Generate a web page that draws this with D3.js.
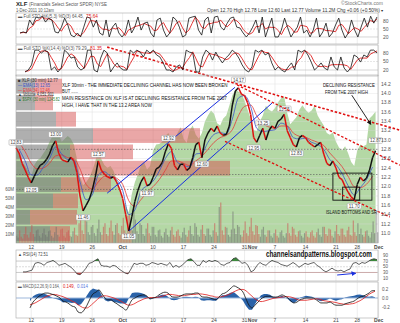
<!DOCTYPE html>
<html><head><meta charset="utf-8">
<script src="https://cdn.jsdelivr.net/npm/d3@7"></script>
<style>body{margin:0;background:#fff}svg{display:block}text{font-family:"Liberation Sans",Arial,sans-serif}</style>
</head><body><svg id="c" width="400" height="323"></svg>
<script>
// ---------------- DATA ----------------
const tickDays=[0,5,10,15,20,25,30,35,40,45,50,53.5,57];
const tickLabels=["12","19","26","Oct","10","17","24","31","7","14","21","28","Dec"];
const priceTicks=[11.0,11.2,11.4,11.6,11.8,12.0,12.2,12.4,12.6,12.8,13.0,13.2,13.4,13.6,13.8,14.0,14.2];
const volTicks=[10,20,30,40,50,60];
const stoTicks=[80,50,20];
const rsiTicks=[90,70,50,30,10];
const macdTicks=[0.2,0,-0.2];
// XLF 30 min, read every half day
const price=[12.83,12.72,12.50,12.36,12.20,12.08,12.22,12.36,12.46,12.50,
12.58,12.70,12.88,12.98,12.72,12.58,12.55,12.53,12.63,12.55,
12.30,11.80,11.48,11.60,11.72,11.92,12.20,12.55,12.35,12.27,
12.21,12.18,12.21,12.10,11.95,11.75,11.40,11.05,11.35,11.68,
11.92,12.10,12.21,12.02,12.05,12.20,12.38,12.42,12.52,12.75,
12.92,12.82,12.45,12.36,12.48,12.48,12.35,12.40,12.62,12.90,
12.95,12.62,13.00,13.15,13.25,13.18,13.30,13.15,13.10,13.12,
13.30,13.75,14.05,14.12,13.98,13.95,13.80,13.55,13.05,12.95,
13.10,13.25,13.00,13.20,13.30,13.25,13.40,13.45,13.55,13.20,
13.05,12.90,12.85,13.05,13.10,13.05,12.95,12.90,12.85,12.90,
12.95,12.70,12.50,12.45,12.55,12.40,12.20,12.15,12.00,11.88,
11.78,11.72,12.05,12.20,12.12,12.18,12.35,12.62,12.77];
const spx=[1195,1180,1165,1158,1150,1140,1160,1168,1172,1180,
1188,1200,1210,1218,1214,1200,1205,1210,1205,1195,
1170,1140,1125,1130,1138,1150,1165,1190,1170,1160,
1155,1158,1150,1135,1120,1100,1090,1078,1110,1130,
1144,1160,1165,1152,1158,1185,1195,1196,1200,1210,
1215,1205,1200,1215,1225,1205,1198,1220,1228,1212,
1205,1215,1235,1245,1254,1248,1232,1228,1240,1245,
1262,1280,1290,1286,1284,1270,1255,1240,1220,1218,
1235,1245,1262,1255,1252,1258,1268,1275,1278,1250,
1230,1236,1242,1255,1263,1255,1250,1254,1262,1245,
1236,1228,1215,1212,1216,1200,1190,1185,1192,1180,
1165,1158,1185,1195,1192,1195,1240,1245,1252];
// EMAs read once per day
const ema13=[12.80,12.55,12.25,12.25,12.42,12.60,12.85,12.70,12.58,12.57,12.10,11.72,11.82,12.25,12.32,12.22,12.15,11.92,11.40,11.50,11.90,12.02,12.12,12.33,12.60,12.75,12.52,12.46,12.42,12.70,12.72,12.95,13.12,13.16,13.13,13.45,13.90,13.95,13.72,13.25,13.18,13.20,13.22,13.36,13.30,13.05,13.02,13.04,12.95,12.90,12.80,12.58,12.47,12.28,12.02,11.82,11.98,12.15,12.42];
const ema34=[12.95,12.75,12.50,12.38,12.40,12.50,12.66,12.68,12.62,12.60,12.38,12.05,11.95,12.10,12.22,12.22,12.18,12.05,11.70,11.58,11.72,11.88,12.00,12.15,12.35,12.55,12.55,12.50,12.45,12.55,12.65,12.80,12.95,13.05,13.10,13.22,13.52,13.72,13.75,13.52,13.35,13.28,13.25,13.30,13.30,13.15,13.08,13.06,13.00,12.95,12.88,12.72,12.58,12.43,12.22,12.00,11.98,12.05,12.22];
// volume (millions) read every quarter day
const volume=[8,6,
14,7,5,10,18,9,6,12,20,10,7,14,15,8,6,11,16,9,7,13,14,8,6,12,18,9,7,15,16,8,6,12,14,8,7,13,17,9,8,22,
30,14,10,25,24,12,9,18,20,11,8,16,26,12,9,18,22,10,8,17,25,13,9,20,22,11,9,19,28,14,11,30,32,15,14,42,26,13,10,22,
20,10,8,16,22,11,8,18,18,9,7,14,15,8,6,12,16,9,7,14,18,9,7,13,15,8,6,12,17,9,7,14,19,10,8,22,18,9,7,15,
20,10,8,16,16,9,7,14,22,12,8,40,45,14,9,18,17,9,7,15,35,16,10,20,18,9,7,14,24,11,8,18,28,13,9,20,19,10,7,15,
18,9,7,14,14,8,6,11,15,8,6,12,14,8,6,11,22,11,8,18,16,9,7,13,14,8,6,11,13,7,6,12,14,8,6,12,16,9,7,18,
18,10,8,16,15,8,6,13,20,10,8,16,16,9,7,14,18,9,8,25,12,8,22,10,16,9,7,13,14,8,6,12,24,11,35,12];
// volume by price (price bucket edges, up volume, down volume)
const vbpEdges=[14.33,13.98,13.62,13.27,12.92,12.57,12.22,11.87,11.52,11.17,10.82];
const vbpUp=[38,38,80,154,108,120,90,74,28,68];
const vbpDown=[54,36,40,214,126,308,100,50,94,40];
// price flags
const labelDays=[-2.5,0,4,8.5,11,16,19,22.5,28,34,36.5,38,41.5,43.5,53,56.5];
const labelVals=[12.83,12.05,13.00,11.46,12.57,11.05,11.97,12.92,12.60,14.17,12.95,13.25,13.55,12.83,11.70,12.87];
const labelSide=[1,-1,1,-1,1,-1,-1,1,-1,1,-1,1,1,-1,-1,1];
// full stochastics
const sto1K=[35,39,35,84,65,95,91,98,76,91,84,39,35,57,91,65,27,20,35,20,57,95,91,57,84,35,27,84,20,57,72,35,20,35,84,35,57,95,46,72,76,35,20,84,91,46,20,35,95,84,57,20,27,91,95,98,46,27,84,95,35,95,98,57,46,72,91,95,57,54,35,20,35,57,84,35,95,20,57,91,20,20,46,91,54,20,39,57,95,35,46,20,46,91,20,39,72,20,35,65,91,46,16,35,84,46,20,57,91,57,98,72,95];
const sto1D=[35,37,36,53,61,81,84,95,88,88,84,71,53,42,61,71,61,37,27,25,37,57,81,81,77,59,49,49,44,54,50,55,42,25,46,51,59,62,66,71,65,61,44,46,65,74,52,34,50,71,79,54,35,46,71,95,80,57,52,69,71,75,76,83,67,58,70,86,81,69,49,36,30,37,59,59,71,50,57,56,56,44,29,52,64,55,38,39,64,62,59,34,37,52,52,50,44,44,42,40,64,67,51,32,45,55,50,41,56,69,82,76,88];
const sto2K=[13,20,38,90,90,80,90,83,20,31,13,27,90,80,62,66,31,20,27,90,90,20,13,62,90,80,13,31,45,27,20,20,90,80,90,83,66,90,80,90,73,66,45,20,20,13,31,38,20,90,83,80,13,13,66,90,80,55,83,62,45,62,73,90,80,62,38,20,13,31,90,83,90,73,80,45,20,31,20,13,31,45,20,90,83,90,73,48,20,31,45,27,20,66,31,20,66,27,13,27,73,66,48,73,66,90,90,80];
const sto2D=[15,17,24,49,73,87,87,84,64,45,21,24,43,66,77,69,53,39,26,46,69,67,41,32,55,77,61,41,30,34,31,22,43,63,87,84,80,80,78,86,81,76,61,44,28,18,21,27,30,49,64,84,59,35,31,56,79,75,73,67,63,56,60,75,81,77,60,40,24,21,45,68,88,82,81,66,48,32,24,21,21,30,32,52,64,88,82,70,47,33,32,34,31,38,39,39,39,38,35,22,38,55,62,62,62,76,82,87];
const rsi=[32,32,35,38,62,65,62,55,65,68,72,65,55,58,62,55,48,38,25,22,32,45,62,65,72,78,55,52,52,48,55,52,42,35,28,25,42,62,58,62,62,55,58,65,62,58,62,58,55,65,48,55,48,55,65,75,78,68,55,55,72,65,72,68,72,68,58,55,62,65,78,82,72,62,65,55,32,38,55,65,58,55,65,72,68,65,58,55,52,58,65,58,48,55,62,58,62,65,55,48,38,32,38,45,38,35,38,32,38,42,62,65,58,65,62,68,75,78,75];
const macd=[-0.22,-0.09,-0.02,0.04,0.08,0.11,0.11,0.09,0.07,0.04,0.0,-0.07,-0.09,-0.13,-0.18,-0.20,-0.31,-0.33,-0.27,-0.16,-0.02,0.09,0.13,0.18,0.09,0.0,-0.04,-0.04,-0.09,-0.13,-0.18,-0.22,-0.27,-0.16,-0.04,0.0,0.04,0.06,0.07,0.04,-0.02,0.0,0.02,0.07,0.11,0.13,0.11,0.04,0.02,0.02,0.04,0.07,0.09,0.09,0.09,0.11,0.11,0.04,0.02,0.02,0.0,-0.02,-0.04,0.02,0.09,0.11,0.16,0.22,0.27,0.24,0.2,0.13,-0.02,-0.16,-0.22,-0.16,-0.09,-0.02,0.02,0.04,0.04,0.02,0.02,0.04,0.07,0.04,0.0,-0.07,-0.11,-0.09,-0.04,-0.02,0.0,0.0,0.0,-0.02,-0.07,-0.11,-0.11,-0.11,-0.09,-0.13,-0.16,-0.16,-0.16,-0.13,-0.11,-0.09,-0.07,-0.02,0.02,0.04,0.07,0.11,0.16,0.164];
const macdSignal=[-0.15,-0.13,-0.10,-0.06,-0.02,0.02,0.05,0.07,0.08,0.07,0.05,0.03,0.0,-0.03,-0.07,-0.10,-0.15,-0.19,-0.22,-0.22,-0.18,-0.12,-0.06,0.0,0.04,0.05,0.04,0.02,0.0,-0.03,-0.06,-0.10,-0.14,-0.16,-0.15,-0.12,-0.08,-0.05,-0.02,0.0,0.01,0.01,0.01,0.02,0.04,0.06,0.08,0.08,0.07,0.06,0.05,0.05,0.06,0.07,0.08,0.08,0.09,0.09,0.08,0.07,0.05,0.04,0.02,0.02,0.03,0.05,0.07,0.10,0.14,0.17,0.19,0.19,0.16,0.10,0.04,-0.02,-0.06,-0.08,-0.07,-0.05,-0.03,-0.01,0.0,0.01,0.02,0.03,0.03,0.02,0.0,-0.03,-0.05,-0.05,-0.05,-0.04,-0.03,-0.02,-0.02,-0.04,-0.06,-0.07,-0.08,-0.09,-0.10,-0.12,-0.13,-0.14,-0.14,-0.13,-0.12,-0.09,-0.06,-0.02,0.03,0.08,0.12,0.149];
const macdHist=[-0.07,0.04,0.08,0.10,0.10,0.09,0.06,0.02,-0.01,-0.03,-0.05,-0.10,-0.09,-0.10,-0.11,-0.10,-0.16,-0.14,-0.05,0.06,0.16,0.21,0.19,0.18,0.05,-0.05,-0.08,-0.06,-0.09,-0.10,-0.12,-0.12,-0.13,0.0,0.11,0.12,0.12,0.11,0.09,0.04,-0.03,-0.01,0.01,0.05,0.07,0.07,0.03,-0.04,-0.05,-0.04,-0.01,0.02,0.03,0.02,0.01,0.03,0.02,-0.05,-0.06,-0.05,-0.05,-0.06,-0.06,0.0,0.06,0.06,0.09,0.12,0.13,0.07,0.01,-0.06,-0.18,-0.26,-0.26,-0.14,-0.03,0.06,0.09,0.09,0.07,0.03,0.02,0.03,0.05,0.01,-0.03,-0.09,-0.11,-0.06,0.01,0.03,0.05,0.04,0.03,0.0,-0.05,-0.07,-0.05,-0.04,-0.01,-0.04,-0.06,-0.04,-0.03,0.01,0.03,0.04,0.05,0.07,0.08,0.06,0.04,0.03,0.04,0.014];
// drawn annotations in (day, price)
const blueLines=[[[12.46,11.86],[33.44,14.13]],[[16.07,11.05],[39.5,13.79]]];
const redLines=[[[12.46,14.99],[60.5,13.21]],[[33.77,14.18],[60.5,12.46]],[[31.8,12.97],[58.85,11.35]]];
const boxes=[[49.5,55.9,11.71,12.29],[51.1,53.9,11.71,11.99]];
const levels=[12.8,12.26,11.94];

// ---------------- DRAW ----------------
const svg=d3.select("#c");
const L=16,R=378;
const x=d3.scaleLinear().domain([-2.5,56.9]).range([L,R]);
const P={s1:[13,44],s2:[45,76],main:[75,243],rsi:[250,281],macd:[282,318]};
const yP=d3.scaleLinear().domain([11.0,14.2]).range([233.3,84]);
const yV=d3.scaleLinear().domain([0,60]).range([243,189]);
const yS=d3.scaleLinear().domain([1050,1300]).range([228.7,83.7]);
const yS1=d3.scaleLinear().domain([0,100]).range([42.3,15.7]);
const yS2=d3.scaleLinear().domain([0,100]).range([75.7,47.3]);
const yR=d3.scaleLinear().domain([0,100]).range([281,252.5]);
const yM=d3.scaleLinear().domain([-0.2,0.2]).range([307,289]);
const xVbp=d3.scaleLinear().domain([0,2]).range([0,1]);

svg.append("rect").attr("width",400).attr("height",323).attr("fill","#fff");
// text helper: optional target width w applied by horizontal scaling
function t(g,xx,yy,s,o={}){const e=g.append("text").text(s)
 .attr("font-size",o.fs||5).attr("fill",o.c||"#333").attr("text-anchor",o.a||"start");
 if(o.b)e.attr("font-weight","bold");
 if(o.w){const n=e.node().getComputedTextLength()||o.w;const k=o.w/n;
  e.attr("x",0).attr("y",0).attr("transform",`translate(${xx},${yy}) scale(${k},1)`);}
 else e.attr("x",xx).attr("y",yy);
 return e;}
const panelKeys=Object.keys(P);
panelKeys.forEach(k=>{const [a,b]=P[k];
 svg.append("rect").attr("x",L).attr("y",a).attr("width",R-L).attr("height",b-a).attr("fill","#fff");
 svg.append("g").selectAll("line").data(tickDays).join("line")
  .attr("x1",d=>x(d)).attr("x2",d=>x(d)).attr("y1",a).attr("y2",b).attr("stroke","#e2e2e2").attr("stroke-width",0.6);
});
// --- main panel background layers
const gm=svg.append("g");
svg.append("clipPath").attr("id","cm").append("rect").attr("x",L).attr("y",P.main[0]).attr("width",R-L).attr("height",P.main[1]-P.main[0]);
const hd=i=>-2.5+0.5*i;
gm.append("path").datum(spx).attr("clip-path","url(#cm)")
 .attr("d",d3.area().x((d,i)=>x(hd(i))).y0(P.main[1]).y1(d=>yS(d)))
 .attr("fill","#b4d8a5");
gm.selectAll("line.pg").data(priceTicks).join("line").attr("x1",L).attr("x2",R)
 .attr("y1",d=>yP(d)).attr("y2",d=>yP(d)).attr("stroke","#dcdcdc").attr("stroke-width",0.5).attr("opacity",0.8);
// volume by price
const vb=gm.append("g");
vbpUp.forEach((u,i)=>{const y0=yP(vbpEdges[i]),y1=yP(vbpEdges[i+1]);
 vb.append("rect").attr("x",L).attr("y",y0+0.8).attr("width",xVbp(u)).attr("height",y1-y0-1.6).attr("fill","rgba(110,110,110,0.55)");
 vb.append("rect").attr("x",L+xVbp(u)).attr("y",y0+0.8).attr("width",xVbp(vbpDown[i])).attr("height",y1-y0-1.6).attr("fill","rgba(214,80,80,0.5)");
});
// volume bars
const qd=i=>-2.5+0.25*i;
const bw=x(0.25)-x(0);
gm.append("g").selectAll("rect").data(volume).join("rect")
 .attr("x",(d,i)=>x(qd(i))).attr("width",bw*0.8).attr("y",d=>yV(d)).attr("height",d=>P.main[1]-yV(d))
 .attr("fill",(d,i)=>{const j=Math.floor(i/2);return (j>0&&price[j]<price[j-1])?"rgba(205,80,80,0.55)":"rgba(110,110,110,0.55)";});
// dotted levels
gm.selectAll("line.lv").data(levels).join("line").attr("x1",L).attr("x2",R).attr("y1",d=>yP(d)).attr("y2",d=>yP(d))
 .attr("stroke","#555").attr("stroke-width",0.6).attr("stroke-dasharray","1.5,1.5");
// EMAs
const dd=i=>-2+i;
gm.append("path").datum(ema34).attr("d",d3.line().x((d,i)=>x(dd(i))).y(d=>yP(d)).curve(d3.curveMonotoneX)).attr("fill","none").attr("stroke","#e23b3b").attr("stroke-width",0.8);
gm.append("path").datum(ema13).attr("d",d3.line().x((d,i)=>x(dd(i))).y(d=>yP(d)).curve(d3.curveMonotoneX)).attr("fill","none").attr("stroke","#3a55c8").attr("stroke-width",0.8);
// price
const segs=d3.range(price.length-1);
gm.append("g").selectAll("line").data(segs).join("line")
 .attr("x1",i=>x(hd(i))).attr("x2",i=>x(hd(i+1))).attr("y1",i=>yP(price[i])).attr("y2",i=>yP(price[i+1]))
 .attr("stroke",i=>price[i+1]>=price[i]?"#111":"#d11").attr("stroke-width",1.5);
// trendlines
blueLines.forEach(l=>gm.append("line").attr("x1",x(l[0][0])).attr("y1",yP(l[0][1])).attr("x2",x(l[1][0])).attr("y2",yP(l[1][1])).attr("stroke","#1a2fe0").attr("stroke-width",1));
redLines.forEach((l,i)=>svg.append("line").attr("x1",x(l[0][0])).attr("y1",yP(l[0][1])).attr("x2",x(l[1][0])).attr("y2",yP(l[1][1])).attr("stroke","#e01010").attr("stroke-width",i==0?1.6:1.3).attr("stroke-dasharray","2.5,1.8"));
boxes.forEach(b=>gm.append("rect").attr("x",x(b[0])).attr("y",yP(b[3])).attr("width",x(b[1])-x(b[0])).attr("height",yP(b[2])-yP(b[3])).attr("fill","none").attr("stroke","#111").attr("stroke-width",0.9));
// price flags
labelDays.forEach((dv,i)=>{const cx=x(dv),cy=yP(labelVals[i])-labelSide[i]*5.5;
 gm.append("rect").attr("x",cx-7).attr("y",cy-2.8).attr("width",14).attr("height",5.6).attr("rx",1).attr("fill","#fff").attr("stroke","#999").attr("stroke-width",0.5);
 t(gm,cx,cy+1.7,labelVals[i].toFixed(2),{fs:4.5,a:"middle",c:"#444",w:11});
});
// legends main
t(svg,18,82,"■ XLF (30 min) 12.77",{fs:4.5,c:"#333",w:40});
t(svg,18,87,"— EMA(13) 12.65",{fs:4.5,c:"#3a55c8",w:32});
t(svg,18,91.5,"— EMA(34) 12.46",{fs:4.5,c:"#e23b3b",w:32});
t(svg,18,96,"▲ Volume 4,051,901",{fs:4.5,c:"#333",w:36});
t(svg,18,100.5,"▲ $SPX (30 min) 1245.82",{fs:4.5,c:"#2f7a2f",w:42});
// annotations
const ann=["XLF 30min - THE IMMEDIATE DECLINING CHANNEL HAS NOW BEEN BROKEN","BUT ......","MAIN RESISTANCE ON XLF IS AT DECLINING RESISTANCE FROM THE 2007","HIGH, I HAVE THAT IN THE 13.2 AREA NOW"];
const annW=[166,16,165,90];
const annY=[87,93,100,107];
ann.forEach((s,i)=>t(svg,62,annY[i],s,{fs:5,c:"#111",w:annW[i]}));
t(svg,323,87,"DECLINING RESISTANCE",{fs:5,c:"#111",w:52});
t(svg,325,94,"FROM THE 2007 HIGH",{fs:5,c:"#111",w:43});
t(svg,326,213.5,"ISLAND BOTTOMS AND SR",{fs:5,c:"#111",w:51});
svg.append("defs").html('<marker id="ah" markerWidth="5" markerHeight="5" refX="4" refY="2.5" orient="auto"><path d="M0,0L5,2.5L0,5z" fill="#111"/></marker><marker id="ab" markerWidth="5" markerHeight="5" refX="4" refY="2.5" orient="auto"><path d="M0,0L5,2.5L0,5z" fill="#1a2fe0"/></marker>');
svg.append("line").attr("x1",x(52.6)).attr("y1",yP(13.96)).attr("x2",x(55.7)).attr("y2",yP(13.34)).attr("stroke","#111").attr("stroke-width",0.9).attr("marker-end","url(#ah)");
// price axis
const ax=svg.append("g").attr("transform",`translate(${R+3},0)`);
priceTicks.forEach(v=>t(ax,0,yP(v)+1.7,v.toFixed(1),{fs:5,c:"#555"}));
volTicks.forEach(v=>t(svg,L-2,yV(v)+1.7,v+"M",{fs:4.5,a:"end",c:"#555"}));
// date axes
function dateAxis(yy){tickDays.forEach((dv,i)=>{const s=tickLabels[i];const bold=["Oct","Dec"].includes(s);
 t(svg,x(dv),yy,s,{fs:5,a:"middle",c:"#444",b:bold});
 if(s==="31")t(svg,x(dv)+8,yy,"Nov",{fs:5,a:"middle",c:"#444",b:true});});}
dateAxis(248.5);dateAxis(322);
// --- stochastic panels
function stoPanel(key,yS_,K,Dv,x0,x1,leg,legR,legW){const [a,b]=P[key];
 const g=svg.append("g");
 [80,20].forEach(v=>g.append("line").attr("x1",L).attr("x2",R).attr("y1",yS_(v)).attr("y2",yS_(v)).attr("stroke","#bbb").attr("stroke-width",0.6));
 g.append("line").attr("x1",L).attr("x2",R).attr("y1",yS_(50)).attr("y2",yS_(50)).attr("stroke","#ccc").attr("stroke-width",0.5).attr("stroke-dasharray","2,1");
 const dA=x.invert(x0),dB=x.invert(x1);
 const xs=(n)=>(i)=>x(dA+(dB-dA)*i/(n-1));
 g.append("path").datum(Dv).attr("d",d3.line().x((d,i)=>xs(Dv.length)(i)).y(d=>yS_(d))).attr("fill","none").attr("stroke","#e02020").attr("stroke-width",0.9);
 g.append("path").datum(K).attr("d",d3.line().x((d,i)=>xs(K.length)(i)).y(d=>yS_(d))).attr("fill","none").attr("stroke","#111").attr("stroke-width",0.8);
 stoTicks.forEach(v=>t(svg,R+5,yS_(v)+1.7,v,{fs:5,c:"#555"}));
 t(svg,18,a+4.5,leg,{fs:4.5,c:"#555",w:legW});
 t(svg,18+legW+2,a+4.5,legR,{fs:4.5,c:"#e02020",w:12});
}
stoPanel("s1",yS1,sto1K,sto1D,20,377,"▬ Full STO %K(5,3) %D(3) 64.45,","75.64",66);
stoPanel("s2",yS2,sto2K,sto2D,25,377,"▬ Full STO %K(14,4) %D(3) 79.29,","81.35",70);
// --- RSI
const gr=svg.append("g");
[70,30].forEach(v=>gr.append("line").attr("x1",L).attr("x2",R).attr("y1",yR(v)).attr("y2",yR(v)).attr("stroke","#aaa").attr("stroke-width",0.6));
gr.append("line").attr("x1",L).attr("x2",R).attr("y1",yR(50)).attr("y2",yR(50)).attr("stroke","#bbb").attr("stroke-width",0.5).attr("stroke-dasharray","2,1");
const rA=x.invert(23),rB=x.invert(377);
const rx=i=>x(rA+(rB-rA)*i/(rsi.length-1));
svg.append("clipPath").attr("id","rlo").append("rect").attr("x",L).attr("y",yR(30)).attr("width",R-L).attr("height",40);
svg.append("clipPath").attr("id","rhi").append("rect").attr("x",L).attr("y",P.rsi[0]).attr("width",R-L).attr("height",yR(70)-P.rsi[0]);
gr.append("path").datum(rsi).attr("clip-path","url(#rlo)").attr("d",d3.area().x((d,i)=>rx(i)).y0(yR(30)).y1(d=>yR(d))).attr("fill","#c84848");
gr.append("path").datum(rsi).attr("clip-path","url(#rhi)").attr("d",d3.area().x((d,i)=>rx(i)).y0(yR(70)).y1(d=>yR(d))).attr("fill","#3d8a3d");
gr.append("path").datum(rsi).attr("d",d3.line().x((d,i)=>rx(i)).y(d=>yR(d))).attr("fill","none").attr("stroke","#222").attr("stroke-width",0.7);
rsiTicks.forEach(v=>t(svg,R+5,yR(v)+1.6,v,{fs:4.5,c:"#555"}));
t(svg,18,P.rsi[0]+6,"▲ RSI(14) 72.51",{fs:4.5,c:"#444",w:30});
svg.append("line").attr("x1",x(50.2)).attr("y1",yR(21)).attr("x2",x(53.2)).attr("y2",yR(27)).attr("stroke","#1a2fe0").attr("stroke-width",1).attr("marker-end","url(#ab)");
// --- MACD
const gc=svg.append("g");
const mA=x.invert(30),mB=x.invert(375);
const mx=i=>x(mA+(mB-mA)*i/(macd.length-1));
gc.append("path").datum(macdHist).attr("d",d3.area().x((d,i)=>mx(i)).y0(yM(0)).y1(d=>yM(d))).attr("fill","#2a62a8");
gc.append("line").attr("x1",L).attr("x2",R).attr("y1",yM(0)).attr("y2",yM(0)).attr("stroke","#9db7dc").attr("stroke-width",1.2);
gc.append("path").datum(macdSignal).attr("d",d3.line().x((d,i)=>mx(i)).y(d=>yM(d)).curve(d3.curveMonotoneX)).attr("fill","none").attr("stroke","#e02020").attr("stroke-width",0.8);
gc.append("path").datum(macd).attr("d",d3.line().x((d,i)=>mx(i)).y(d=>yM(d)).curve(d3.curveMonotoneX)).attr("fill","none").attr("stroke","#111").attr("stroke-width",0.8);
macdTicks.forEach(v=>t(svg,R+4,yM(v)+1.7,v.toFixed(1),{fs:4.5,c:"#555"}));
t(svg,18,P.macd[0]+6,"▬ MACD(12,26,9) 0.164,",{fs:4.5,c:"#555",w:42});
t(svg,63,P.macd[0]+6,"0.149,",{fs:4.5,c:"#e02020",w:12});
t(svg,77,P.macd[0]+6,"0.014",{fs:4.5,c:"#5577dd",w:11});
// panel borders
panelKeys.forEach(k=>{const [a,b]=P[k];svg.append("rect").attr("x",L).attr("y",a).attr("width",R-L).attr("height",b-a).attr("fill","none").attr("stroke","#a8a8a8").attr("stroke-width",0.6);});
// blog caption on top
t(svg,266,257,"channelsandpatterns.blogspot.com",{fs:9,c:"#111",b:true,w:106});
// header
t(svg,16,6,"XLF",{fs:6,b:true,c:"#222"});
t(svg,29,6,"(Financials Select Sector SPDR) NYSE",{fs:5,c:"#555",w:78});
t(svg,16,11.5,"1-Dec-2011 10:12am",{fs:4.5,c:"#555",w:38});
t(svg,383,5,"©StockCharts.com",{fs:4.5,c:"#777",a:"end",w:42});
t(svg,207,11.5,"Open 12.70 High 12.78 Low 12.60 Last 12.77 Volume 11.2M Chg +0.06 (+0.50%) ▾",{fs:4.5,c:"#333",w:178});
</script></body></html>
